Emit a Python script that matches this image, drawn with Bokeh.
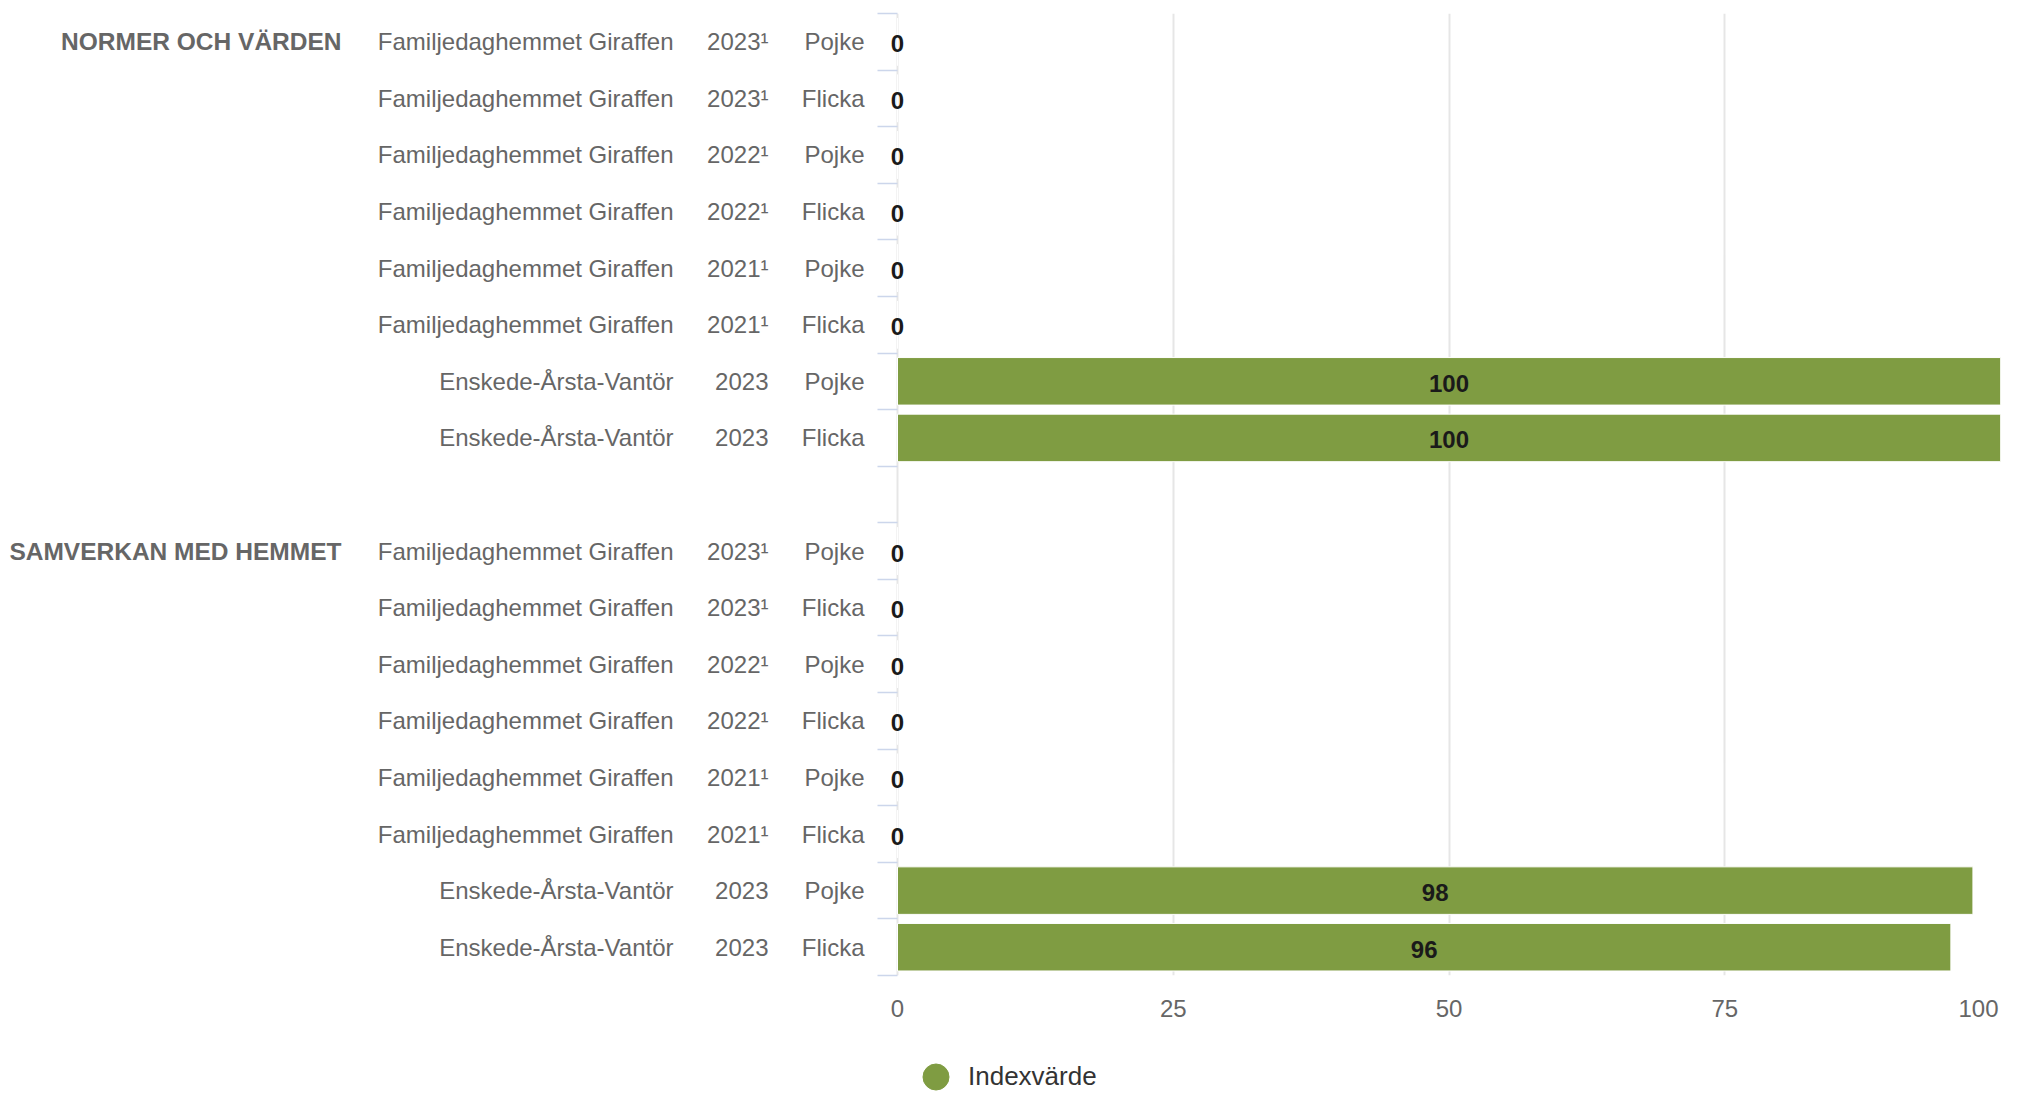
from bokeh.plotting import figure
from bokeh.models import (ColumnDataSource, Range1d, LinearAxis, FixedTicker,
                          Legend, LegendItem)
from bokeh.layouts import column
from bokeh.core.properties import value
from bokeh.embed import file_html
from bokeh.resources import INLINE

# ---------------- data ----------------
groups = ["NORMER OCH VÄRDEN", "SAMVERKAN MED HEMMET"]
units = ["Familjedaghemmet Giraffen"] * 6 + ["Enskede-Årsta-Vantör"] * 2
years = ["2023¹", "2023¹", "2022¹", "2022¹", "2021¹", "2021¹", "2023", "2023"]
genders = ["Pojke", "Flicka", "Pojke", "Flicka", "Pojke", "Flicka", "Pojke", "Flicka"]
values_normer = [0, 0, 0, 0, 0, 0, 100, 100]
values_samverkan = [0, 0, 0, 0, 0, 0, 97.5, 95.5]
x_ticks = [0, 25, 50, 75, 100]
series_name = "Indexvärde"

BAR = "#7f9c42"
FONT = "Liberation Sans"
LBL = "#666666"

# rows: group 1, spacer row, group 2
all_values = [values_normer, values_samverkan]
row_y, row_val, row_unit, row_year, row_gender = [], [], [], [], []
group_first = {}
r = 0
for gi, g in enumerate(groups):
    if gi > 0:
        r += 1  # empty spacer band
    group_first[r + 0.5] = g
    for i in range(len(units)):
        row_y.append(r + 0.5)
        row_val.append(all_values[gi][i])
        row_unit.append(units[i])
        row_year.append(years[i])
        row_gender.append(genders[i])
        r += 1
n_rows = r

src = ColumnDataSource(dict(
    y=row_y,
    value=row_val,
    xmid=[v / 2 for v in row_val],
    label=[str(int(v + 0.5)) for v in row_val],
))

# ---------------- layout ----------------
W = 2019
MAIN_H = 985
STRIP_H = 1094 - MAIN_H
LEFT = 877          # frame left (tick marks live in first 20 px)
RIGHT_B = 19        # right border
PX_PER_UNIT = (W - RIGHT_B - LEFT - 20) / 100.0
x_range = Range1d(-20 / PX_PER_UNIT, 100)

p = figure(width=W, height=MAIN_H, output_backend="svg", toolbar_location=None,
           x_range=x_range, y_range=Range1d(n_rows, 0),
           min_border_left=LEFT, min_border_right=RIGHT_B, min_border_top=13,
           min_border_bottom=10)
p.outline_line_color = None
p.background_fill_color = "white"
p.border_fill_color = "white"
p.xaxis.visible = False

# grid
p.ygrid.visible = False
p.xgrid.ticker = FixedTicker(ticks=x_ticks)
p.xgrid.grid_line_color = "#e6e6e6"
p.xgrid.grid_line_width = 2

# bars
p.hbar(y="y", left=0, right="value", height=0.84, source=src,
       fill_color=BAR, line_color="white", line_width=1)

p.text(x="xmid", y="y", text="label", source=src,
       text_align="center", text_baseline="middle", y_offset=2,
       text_font=value(FONT), text_font_size="24px", text_font_style="bold",
       text_color="#1a1a1a")

# y axes (innermost first)
def style_axis(ax, standoff, bold=False, size="24px"):
    ax.major_tick_out = 0
    ax.major_tick_in = 0
    ax.major_tick_line_color = None
    ax.minor_tick_out = 0
    ax.minor_tick_in = 0
    ax.minor_tick_line_color = None
    ax.axis_line_color = None
    ax.major_label_standoff = standoff
    ax.major_label_text_font = FONT
    ax.major_label_text_font_size = size
    ax.major_label_text_color = LBL
    if bold:
        ax.major_label_text_font_style = "bold"

ga = p.yaxis[0]
ga.ticker = FixedTicker(ticks=row_y, minor_ticks=list(range(n_rows + 1)))
ga.major_label_overrides = {y: t for y, t in zip(row_y, row_gender)}
style_axis(ga, 13)
ga.minor_tick_in = 20
ga.minor_tick_line_color = "#ccd6eb"
ga.minor_tick_line_width = 1.5

ya = LinearAxis(ticker=FixedTicker(ticks=row_y),
                major_label_overrides={y: t for y, t in zip(row_y, row_year)})
style_axis(ya, 30)
p.add_layout(ya, "left")

ua = LinearAxis(ticker=FixedTicker(ticks=row_y),
                major_label_overrides={y: t for y, t in zip(row_y, row_unit)})
style_axis(ua, 31)
p.add_layout(ua, "left")

gra = LinearAxis(ticker=FixedTicker(ticks=list(group_first.keys())),
                 major_label_overrides=dict(group_first))
style_axis(gra, 33, bold=True, size="24.5px")
p.add_layout(gra, "left")

# ---------------- bottom strip: x tick labels + legend ----------------
s = figure(width=W, height=STRIP_H, output_backend="svg", toolbar_location=None,
           x_range=x_range, y_range=Range1d(STRIP_H, 0),
           x_axis_type=None, y_axis_type=None,
           min_border_left=LEFT, min_border_right=RIGHT_B,
           min_border_top=0, min_border_bottom=0)
s.outline_line_color = None
s.grid.visible = False
s.background_fill_color = "white"
s.border_fill_color = "white"

tick_src = ColumnDataSource(dict(
    x=x_ticks,
    y=[23] * len(x_ticks),
    text=[str(t) for t in x_ticks],
    align=["center"] * (len(x_ticks) - 1) + ["right"],
    xoff=[0] * (len(x_ticks) - 1) + [-2],
))
s.text(x="x", y="y", text="text", source=tick_src, text_align="align",
       x_offset="xoff", text_baseline="middle",
       text_font=value(FONT), text_font_size="24px", text_color=LBL)

proxy = s.scatter(x="value", y="y", source=src, marker="circle",
                  fill_color=BAR, line_color=BAR, visible=False)
legend = Legend(items=[LegendItem(label=series_name, renderers=[proxy])],
                location=(26, -15), orientation="horizontal",
                glyph_width=65, glyph_height=65, label_standoff=-8,
                padding=0, margin=0, spacing=0,
                inactive_fill_alpha=0,
                border_line_color=None, background_fill_alpha=0,
                label_text_font=FONT, label_text_font_size="26px",
                label_text_color="#333333", label_text_baseline="middle")
s.add_layout(legend)

layout = column(p, s, spacing=0)
open("out.html", "w").write(file_html(layout, INLINE))
